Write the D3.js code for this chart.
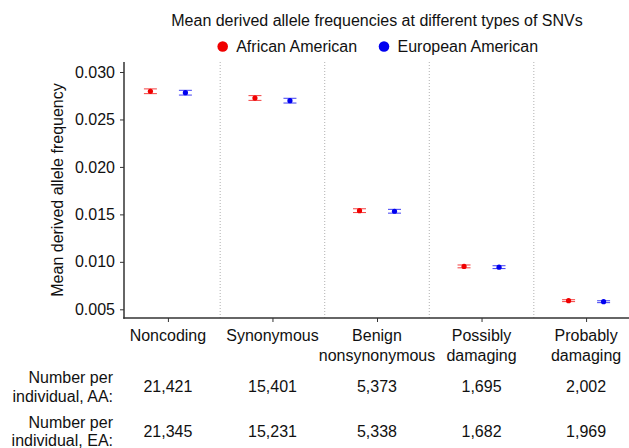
<!DOCTYPE html>
<html><head><meta charset="utf-8">
<script src="https://cdn.jsdelivr.net/npm/d3@7/dist/d3.min.js"></script>
<style>
html,body{margin:0;padding:0;background:#fff;}
svg{display:block;font-family:"Liberation Sans",Arial,Helvetica,sans-serif;}
</style></head>
<body>
<svg id="chart" width="629" height="448"></svg>
<script>
const categories = ["Noncoding","Synonymous","Benign\nnonsynonymous","Possibly\ndamaging","Probably\ndamaging"];
const seriesNames = ["African American","European American"];
const aaMean = [0.02797,0.02726,0.01539,0.00952,0.00591];
const eaMean = [0.02782,0.02698,0.01533,0.00944,0.00580];
const aaErr = [0.00025,0.00025,0.00020,0.00015,0.00010];
const eaErr = [0.00025,0.00025,0.00020,0.00015,0.00010];
const aaCounts = ["21,421","15,401","5,373","1,695","2,002"];
const eaCounts = ["21,345","15,231","5,338","1,682","1,969"];
const yTicks = [0.005,0.010,0.015,0.020,0.025,0.030];
const title = "Mean derived allele frequencies at different types of SNVs";
const yLabel = "Mean derived allele frequency";
const rowLabels = [["Number per","individual, AA:"],["Number per","individual, EA:"]];
const colors = ["#f00000","#0000f0"];

(function(){
const svg = d3.select("#chart");
const fs = "16px";
const pLeft = 124, pRight = 630, pTop = 62, pBottom = 318;

const x = d3.scalePoint().domain(categories).range([pLeft,pRight]).padding(0.42);
const y = d3.scaleLinear().domain([0.005,0.030]).range([309.3,72]);
const step = x.step();
const offset = 17.5;

// dividers
const divs = categories.slice(1).map(c => x(c) - step/2);
svg.append("g").selectAll("line").data(divs).join("line")
  .attr("x1",d=>d).attr("x2",d=>d).attr("y1",pTop).attr("y2",pBottom)
  .attr("stroke","#b0b0b0").attr("stroke-width",1).attr("stroke-dasharray","1,2");

// y axis
const yAxis = svg.append("g").attr("transform",`translate(${pLeft},0)`)
  .call(d3.axisLeft(y).tickValues(yTicks).tickFormat(d3.format(".3f")).tickSize(4).tickPadding(5));
yAxis.select(".domain").remove();
yAxis.selectAll("text").attr("font-size",fs).attr("fill","#111").attr("font-family","Liberation Sans, Arial, sans-serif");
yAxis.selectAll("line").attr("stroke","#333");
svg.append("line").attr("x1",pLeft).attr("x2",pLeft).attr("y1",pTop).attr("y2",pBottom+0.75)
  .attr("stroke","#333").attr("stroke-width",1.5);

// x axis
const xAxis = svg.append("g").attr("transform",`translate(0,${pBottom})`)
  .call(d3.axisBottom(x).tickSize(4).tickFormat(""));
xAxis.select(".domain").remove();
xAxis.selectAll("line").attr("stroke","#333");
svg.append("line").attr("x1",pLeft-0.75).attr("x2",629).attr("y1",pBottom).attr("y2",pBottom)
  .attr("stroke","#333").attr("stroke-width",1.5);

// category labels
categories.forEach(c=>{
  const lines = c.split("\n");
  const t = svg.append("text").attr("x",x(c)).attr("y",340.5).attr("text-anchor","middle")
    .attr("font-size",fs).attr("fill","#111");
  lines.forEach((l,i)=>t.append("tspan").attr("x",x(c)).attr("dy",i===0?0:20).text(l));
});

// error bars and points
const series = [
  {mean:aaMean, err:aaErr, dx:-offset, color:colors[0]},
  {mean:eaMean, err:eaErr, dx:offset, color:colors[1]}
];
series.forEach(s=>{
  const g = svg.append("g");
  categories.forEach((c,i)=>{
    const cx = x(c)+s.dx;
    const y0 = y(s.mean[i]-s.err[i]), y1 = y(s.mean[i]+s.err[i]);
    g.append("line").attr("x1",cx).attr("x2",cx).attr("y1",y0).attr("y2",y1)
      .attr("stroke",s.color).attr("stroke-width",1.2).attr("opacity",0.8);
    [y0,y1].forEach(yy=>g.append("line").attr("x1",cx-6.5).attr("x2",cx+6.5).attr("y1",yy).attr("y2",yy)
      .attr("stroke",s.color).attr("stroke-width",1).attr("opacity",0.75));
    g.append("circle").attr("cx",cx).attr("cy",y(s.mean[i])).attr("r",2.6).attr("fill",s.color);
  });
});

// title
svg.append("text").attr("x",377).attr("y",25.5).attr("text-anchor","middle")
  .attr("font-size",fs).attr("fill","#111").text(title);

// legend
const legX = [222.7,384];
seriesNames.forEach((n,i)=>{
  svg.append("circle").attr("cx",legX[i]).attr("cy",46.5).attr("r",5.3).attr("fill",colors[i]);
  svg.append("text").attr("x",legX[i]+13.5).attr("y",52.3).attr("font-size",fs).attr("fill","#111").text(n);
});

// y label
svg.append("text").attr("transform",`translate(63,190) rotate(-90)`).attr("text-anchor","middle")
  .attr("font-size",fs).attr("fill","#111").text(yLabel);

// table
const rowsY = [[383.3,401.5],[427.5,445.5]];
const countRows = [aaCounts, eaCounts];
const countY = [392,436.5];
rowLabels.forEach((lab,r)=>{
  lab.forEach((l,j)=>svg.append("text").attr("x",113).attr("y",rowsY[r][j]).attr("text-anchor","end")
    .attr("font-size",fs).attr("fill","#111").text(l));
  categories.forEach((c,i)=>svg.append("text").attr("x",x(c)).attr("y",countY[r]).attr("text-anchor","middle")
    .attr("font-size",fs).attr("fill","#111").text(countRows[r][i]));
});
})();
</script>
</body></html>
